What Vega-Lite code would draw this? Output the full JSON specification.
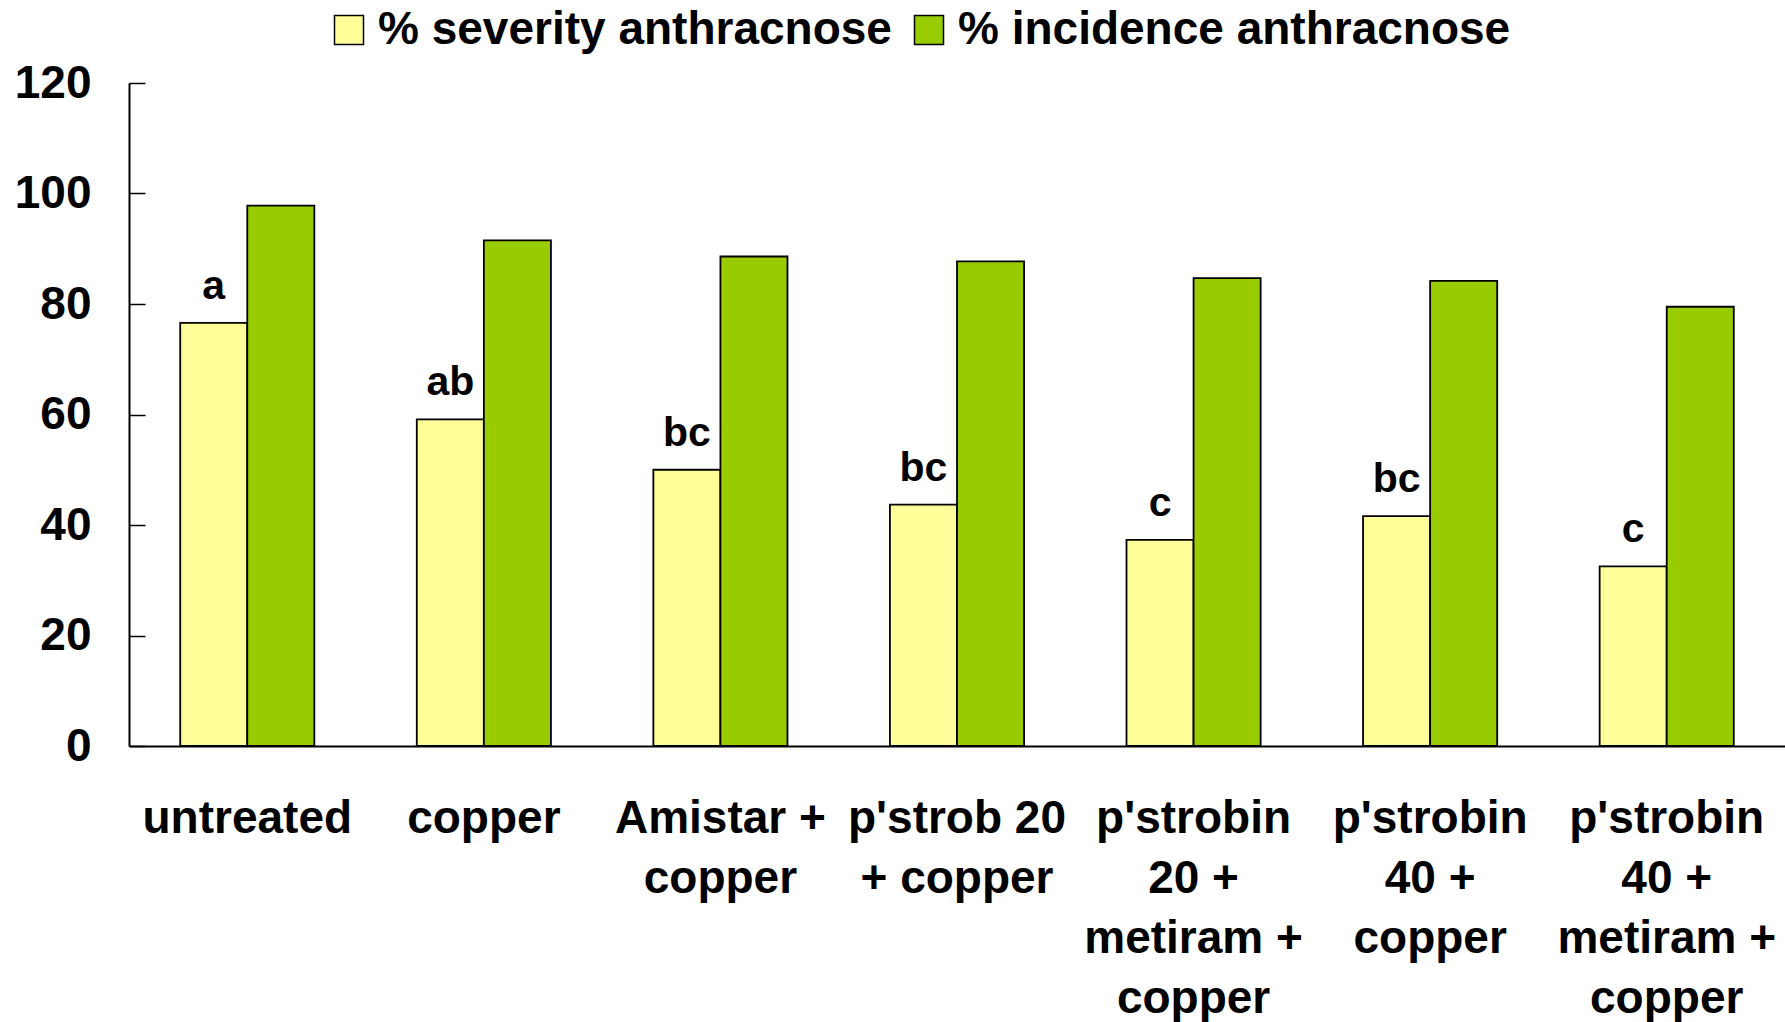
{
  "$schema": "https://vega.github.io/schema/vega-lite/v6.json",
  "autosize": {"type": "none"},
  "padding": {"left": 129, "top": 83, "right": 0, "bottom": 276},
  "width": 1656,
  "height": 663,
  "background": "white",
  "data": {
    "values": [
      {"treatment": "untreated", "series": "% severity anthracnose", "value": 76.6, "letter": "a"},
      {"treatment": "untreated", "series": "% incidence anthracnose", "value": 97.8, "letter": ""},
      {"treatment": "copper", "series": "% severity anthracnose", "value": 59.1, "letter": "ab"},
      {"treatment": "copper", "series": "% incidence anthracnose", "value": 91.5, "letter": ""},
      {"treatment": "Amistar +|copper", "series": "% severity anthracnose", "value": 50.0, "letter": "bc"},
      {"treatment": "Amistar +|copper", "series": "% incidence anthracnose", "value": 88.6, "letter": ""},
      {"treatment": "p'strob 20|+ copper", "series": "% severity anthracnose", "value": 43.7, "letter": "bc"},
      {"treatment": "p'strob 20|+ copper", "series": "% incidence anthracnose", "value": 87.7, "letter": ""},
      {"treatment": "p'strobin|20 +|metiram +|copper", "series": "% severity anthracnose", "value": 37.3, "letter": "c"},
      {"treatment": "p'strobin|20 +|metiram +|copper", "series": "% incidence anthracnose", "value": 84.7, "letter": ""},
      {"treatment": "p'strobin|40 +|copper", "series": "% severity anthracnose", "value": 41.6, "letter": "bc"},
      {"treatment": "p'strobin|40 +|copper", "series": "% incidence anthracnose", "value": 84.2, "letter": ""},
      {"treatment": "p'strobin|40 +|metiram +|copper", "series": "% severity anthracnose", "value": 32.5, "letter": "c"},
      {"treatment": "p'strobin|40 +|metiram +|copper", "series": "% incidence anthracnose", "value": 79.5, "letter": ""}
    ]
  },
  "encoding": {
    "x": {
      "field": "treatment",
      "type": "nominal",
      "sort": null,
      "scale": {"paddingInner": 0.433, "paddingOuter": 0.2165},
      "axis": {
        "title": null,
        "labelAngle": 0,
        "labelExpr": "split(datum.label, '|')",
        "labelFont": "Liberation Sans",
        "labelFontWeight": "bold",
        "labelFontSize": 46,
        "labelLineHeight": 60,
        "labelBaseline": "top",
        "labelPadding": 50,
        "labelLimit": 500,
        "labelOverlap": false,
        "labelColor": "black",
        "ticks": false,
        "domainColor": "black",
        "domainWidth": 2
      }
    },
    "xOffset": {
      "field": "series",
      "type": "nominal",
      "sort": ["% severity anthracnose", "% incidence anthracnose"],
      "scale": {"paddingInner": 0, "paddingOuter": 0}
    },
    "y": {
      "field": "value",
      "type": "quantitative",
      "scale": {"domain": [0, 120], "nice": false},
      "axis": {
        "title": null,
        "values": [0, 20, 40, 60, 80, 100, 120],
        "grid": false,
        "labelFont": "Liberation Sans",
        "labelFontWeight": "bold",
        "labelFontSize": 46,
        "labelColor": "black",
        "labelPadding": 54,
        "tickSize": -16,
        "tickColor": "black",
        "tickWidth": 1.5,
        "domainColor": "black",
        "domainWidth": 2
      }
    }
  },
  "layer": [
    {
      "mark": {"type": "bar", "stroke": "black", "strokeWidth": 1.8},
      "encoding": {
        "color": {
          "field": "series",
          "type": "nominal",
          "sort": ["% severity anthracnose", "% incidence anthracnose"],
          "scale": {"domain": ["% severity anthracnose", "% incidence anthracnose"], "range": ["#FFFF99", "#99CC00"]},
          "legend": {
            "title": null,
            "orient": "none",
            "legendX": 197,
            "legendY": -76,
            "direction": "horizontal",
            "symbolType": "square",
            "symbolSize": 841,
            "symbolStrokeColor": "black",
            "symbolStrokeWidth": 1.5,
            "labelFont": "Liberation Sans",
            "labelFontWeight": "bold",
            "labelFontSize": 46,
            "labelColor": "black",
            "labelOffset": 6,
            "labelLimit": 700,
            "columnPadding": 14
          }
        }
      }
    },
    {
      "transform": [{"filter": "datum.letter != ''"}],
      "mark": {"type": "text", "font": "Liberation Sans", "fontWeight": "bold", "fontSize": 41, "color": "black", "baseline": "alphabetic", "dy": -24},
      "encoding": {
        "text": {"field": "letter"}
      }
    }
  ],
  "config": {"view": {"stroke": null}}
}
